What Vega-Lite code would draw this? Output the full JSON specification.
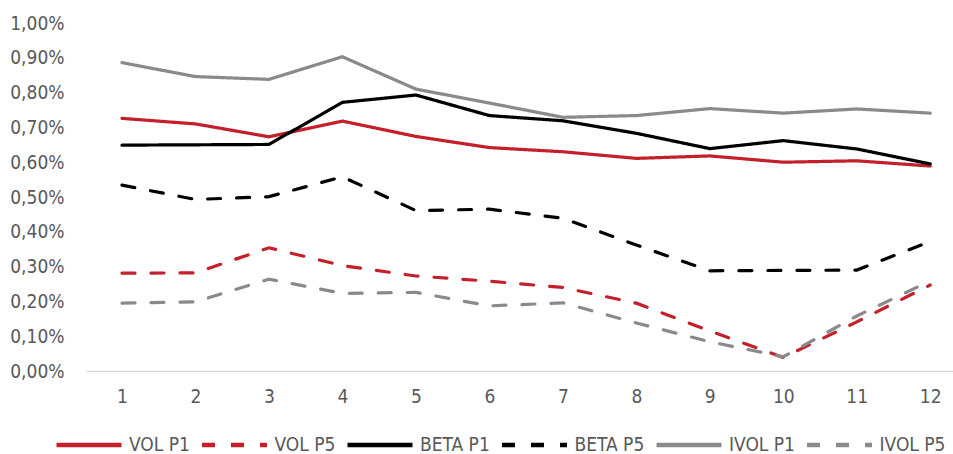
{
  "$schema": "https://vega.github.io/schema/vega-lite/v6.json",
  "width": 867,
  "height": 348,
  "autosize": {"type": "none"},
  "padding": {"left": 86, "top": 23, "right": 0, "bottom": 83},
  "background": "white",
  "config": {
    "view": {"stroke": null},
    "font": "DejaVu Sans Condensed, Roboto, sans-serif",
    "legend": {
      "orient": "none",
      "direction": "horizontal",
      "legendX": -32,
      "legendY": 387,
      "title": null,
      "symbolType": "stroke",
      "symbolSize": 4225,
      "symbolStrokeWidth": 4.5,
      "labelFont": "DejaVu Sans Condensed, Roboto, sans-serif",
      "labelFontSize": 19,
      "labelColor": "#595959",
      "labelOffset": 5,
      "columnPadding": 2.5
    }
  },
  "data": {
    "values": [
      {"x": 1, "s": "VOL P1", "v": 0.726}, {"x": 2, "s": "VOL P1", "v": 0.710}, {"x": 3, "s": "VOL P1", "v": 0.673},
      {"x": 4, "s": "VOL P1", "v": 0.718}, {"x": 5, "s": "VOL P1", "v": 0.674}, {"x": 6, "s": "VOL P1", "v": 0.642},
      {"x": 7, "s": "VOL P1", "v": 0.630}, {"x": 8, "s": "VOL P1", "v": 0.611}, {"x": 9, "s": "VOL P1", "v": 0.618},
      {"x": 10, "s": "VOL P1", "v": 0.600}, {"x": 11, "s": "VOL P1", "v": 0.604}, {"x": 12, "s": "VOL P1", "v": 0.589},

      {"x": 1, "s": "VOL P5", "v": 0.281}, {"x": 2, "s": "VOL P5", "v": 0.282}, {"x": 3, "s": "VOL P5", "v": 0.354},
      {"x": 4, "s": "VOL P5", "v": 0.303}, {"x": 5, "s": "VOL P5", "v": 0.273}, {"x": 6, "s": "VOL P5", "v": 0.258},
      {"x": 7, "s": "VOL P5", "v": 0.240}, {"x": 8, "s": "VOL P5", "v": 0.195}, {"x": 9, "s": "VOL P5", "v": 0.115},
      {"x": 10, "s": "VOL P5", "v": 0.039}, {"x": 11, "s": "VOL P5", "v": 0.141}, {"x": 12, "s": "VOL P5", "v": 0.247},

      {"x": 1, "s": "BETA P1", "v": 0.649}, {"x": 2, "s": "BETA P1", "v": 0.650}, {"x": 3, "s": "BETA P1", "v": 0.651},
      {"x": 4, "s": "BETA P1", "v": 0.772}, {"x": 5, "s": "BETA P1", "v": 0.793}, {"x": 6, "s": "BETA P1", "v": 0.734},
      {"x": 7, "s": "BETA P1", "v": 0.719}, {"x": 8, "s": "BETA P1", "v": 0.683}, {"x": 9, "s": "BETA P1", "v": 0.639},
      {"x": 10, "s": "BETA P1", "v": 0.662}, {"x": 11, "s": "BETA P1", "v": 0.638}, {"x": 12, "s": "BETA P1", "v": 0.595},

      {"x": 1, "s": "BETA P5", "v": 0.534}, {"x": 2, "s": "BETA P5", "v": 0.493}, {"x": 3, "s": "BETA P5", "v": 0.501},
      {"x": 4, "s": "BETA P5", "v": 0.558}, {"x": 5, "s": "BETA P5", "v": 0.461}, {"x": 6, "s": "BETA P5", "v": 0.465},
      {"x": 7, "s": "BETA P5", "v": 0.439}, {"x": 8, "s": "BETA P5", "v": 0.362}, {"x": 9, "s": "BETA P5", "v": 0.288},
      {"x": 10, "s": "BETA P5", "v": 0.289}, {"x": 11, "s": "BETA P5", "v": 0.290}, {"x": 12, "s": "BETA P5", "v": 0.372},

      {"x": 1, "s": "IVOL P1", "v": 0.886}, {"x": 2, "s": "IVOL P1", "v": 0.846}, {"x": 3, "s": "IVOL P1", "v": 0.838},
      {"x": 4, "s": "IVOL P1", "v": 0.903}, {"x": 5, "s": "IVOL P1", "v": 0.810}, {"x": 6, "s": "IVOL P1", "v": 0.770},
      {"x": 7, "s": "IVOL P1", "v": 0.729}, {"x": 8, "s": "IVOL P1", "v": 0.734}, {"x": 9, "s": "IVOL P1", "v": 0.754},
      {"x": 10, "s": "IVOL P1", "v": 0.741}, {"x": 11, "s": "IVOL P1", "v": 0.753}, {"x": 12, "s": "IVOL P1", "v": 0.741},

      {"x": 1, "s": "IVOL P5", "v": 0.195}, {"x": 2, "s": "IVOL P5", "v": 0.199}, {"x": 3, "s": "IVOL P5", "v": 0.264},
      {"x": 4, "s": "IVOL P5", "v": 0.223}, {"x": 5, "s": "IVOL P5", "v": 0.226}, {"x": 6, "s": "IVOL P5", "v": 0.187},
      {"x": 7, "s": "IVOL P5", "v": 0.196}, {"x": 8, "s": "IVOL P5", "v": 0.138}, {"x": 9, "s": "IVOL P5", "v": 0.084},
      {"x": 10, "s": "IVOL P5", "v": 0.041}, {"x": 11, "s": "IVOL P5", "v": 0.158}, {"x": 12, "s": "IVOL P5", "v": 0.259}
    ]
  },
  "mark": {"type": "line", "strokeWidth": 3.2, "strokeCap": "round", "clip": false},
  "encoding": {
    "x": {
      "field": "x",
      "type": "quantitative",
      "scale": {"domain": [0.51, 12.31], "nice": false, "zero": false},
      "axis": {
        "values": [1, 2, 3, 4, 5, 6, 7, 8, 9, 10, 11, 12],
        "format": "d",
        "title": null,
        "ticks": false,
        "grid": false,
        "domainColor": "#d9d9d9",
        "domainWidth": 1.5,
        "labelFont": "DejaVu Sans Condensed, Roboto, sans-serif",
        "labelFontSize": 19,
        "labelColor": "#595959",
        "labelPadding": 16,
        "labelFlush": false,
        "labelOverlap": false
      }
    },
    "y": {
      "field": "v",
      "type": "quantitative",
      "scale": {"domain": [0, 1], "nice": false},
      "axis": {
        "values": [0, 0.1, 0.2, 0.3, 0.4, 0.5, 0.6, 0.7, 0.8, 0.9, 1.0],
        "labelExpr": "replace(format(datum.value, '.2f'), '.', ',') + '%'",
        "title": null,
        "ticks": false,
        "grid": false,
        "domain": false,
        "labelFont": "DejaVu Sans Condensed, Roboto, sans-serif",
        "labelFontSize": 19,
        "labelColor": "#595959",
        "labelPadding": 22,
        "labelOverlap": false
      }
    },
    "color": {
      "field": "s",
      "type": "nominal",
      "scale": {
        "domain": ["VOL P1", "VOL P5", "BETA P1", "BETA P5", "IVOL P1", "IVOL P5"],
        "range": ["#c3202b", "#c3202b", "#000000", "#000000", "#8a8a8a", "#8a8a8a"]
      }
    },
    "strokeDash": {
      "field": "s",
      "type": "nominal",
      "scale": {
        "domain": ["VOL P1", "VOL P5", "BETA P1", "BETA P5", "IVOL P1", "IVOL P5"],
        "range": [[1, 0], [13, 16], [1, 0], [13, 16], [1, 0], [13, 16]]
      }
    }
  }
}
